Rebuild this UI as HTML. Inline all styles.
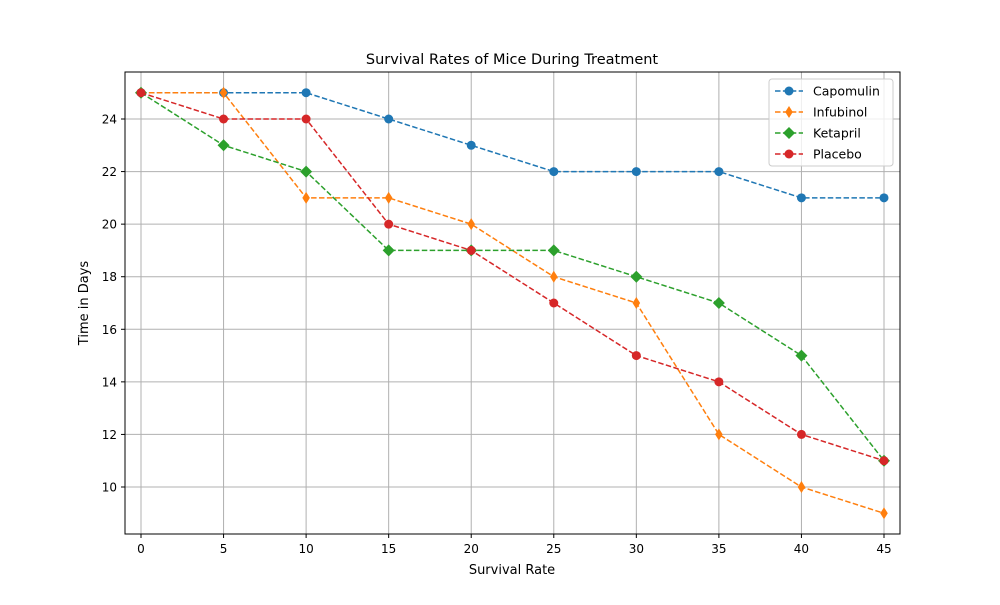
<!DOCTYPE html>
<html><head><meta charset="utf-8"><style>
body{margin:0;background:#fff;font-family:"Liberation Sans","DejaVu Sans",sans-serif;}
</style></head><body>
<svg width="1000" height="600" xmlns="http://www.w3.org/2000/svg" font-family="DejaVu Sans, Liberation Sans, sans-serif">
<rect width="1000" height="600" fill="#fff"/>
<g id="grid"></g>
<g id="series"></g>
<rect x="125" y="72" width="775" height="462" fill="none" stroke="#000" stroke-width="1"/>
<g id="ticks" font-size="12"></g>
<text x="512" y="64" text-anchor="middle" font-size="14.5">Survival Rates of Mice During Treatment</text>
<text x="512" y="574" text-anchor="middle" font-size="13">Survival Rate</text>
<text x="88" y="303" text-anchor="middle" font-size="13" transform="rotate(-90 88 303)">Time in Days</text>
<g id="legend"></g>
</svg>
<script>
const xValues=[0,5,10,15,20,25,30,35,40,45];
const capomulin=[25,25,25,24,23,22,22,22,21,21];
const infubinol=[25,25,21,21,20,18,17,12,10,9];
const ketapril=[25,23,22,19,19,19,18,17,15,11];
const placebo=[25,24,24,20,19,17,15,14,12,11];
const xTicks=[0,5,10,15,20,25,30,35,40,45];
const yTicks=[10,12,14,16,18,20,22,24];
const NS="http://www.w3.org/2000/svg";
const X=v=>141+(v-0)*(884-141)/45;
const Y=v=>119+(24-v)*(487-119)/14;
function mk(t,a,p){const e=document.createElementNS(NS,t);for(const k in a)e.setAttribute(k,a[k]);p.appendChild(e);return e;}
const grid=document.getElementById('grid'),ticks=document.getElementById('ticks');
xTicks.forEach(v=>{const l=mk('line',{x1:X(v),x2:X(v),y1:72,y2:534,stroke:'#b0b0b0','stroke-width':1},grid);

mk('line',{x1:X(v),x2:X(v),y1:534,y2:538,stroke:'#000'},ticks);
const t=mk('text',{x:X(v),y:553,'text-anchor':'middle'},ticks);t.textContent=v;
});
yTicks.forEach(v=>{const l=mk('line',{x1:125,x2:900,y1:Y(v),y2:Y(v),stroke:'#b0b0b0','stroke-width':1},grid);

mk('line',{x1:121,x2:125,y1:Y(v),y2:Y(v),stroke:'#000'},ticks);
const t=mk('text',{x:117,y:Y(v)+4.5,'text-anchor':'end'},ticks);t.textContent=v;
});
const series=[['Capomulin',capomulin,'#1f77b4','o'],['Infubinol',infubinol,'#ff7f0e','d'],['Ketapril',ketapril,'#2ca02c','D'],['Placebo',placebo,'#d62728','o']];
function marker(g,x,y,c,m){
 if(m==='o')return mk('circle',{cx:x,cy:y,r:4.5,fill:c},g);
 if(m==='d')return mk('polygon',{points:`${x},${y-6} ${x+3.8},${y} ${x},${y+6} ${x-3.8},${y}`,fill:c},g);
 return mk('polygon',{points:`${x},${y-6} ${x+6},${y} ${x},${y+6} ${x-6},${y}`,fill:c},g);}
const sg=document.getElementById('series');
series.forEach(([n,d,c,m])=>{const g=mk('g',{},sg);

mk('polyline',{points:d.map((v,i)=>X(xValues[i])+','+Y(v)).join(' '),fill:'none',stroke:c,'stroke-width':1.5,'stroke-dasharray':'5.5,2.4'},g);
d.forEach((v,i)=>{const p=marker(g,X(xValues[i]),Y(v),c,m);});});
const lg=document.getElementById('legend');
const box=mk('rect',{x:769,y:79,width:124,height:87,rx:3,fill:'#fff','fill-opacity':0.8,stroke:'#ccc'},lg);

series.forEach(([n,d,c,m],i)=>{const y=91+i*21;const g=mk('g',{},lg);

mk('line',{x1:775,x2:803,y1:y,y2:y,stroke:c,'stroke-width':1.5,'stroke-dasharray':'5.5,2.4'},g);
marker(g,789,y,c,m);
const t=mk('text',{x:813,y:y+4.5,'font-size':12.5},g);t.textContent=n;});
</script>
</body></html>
